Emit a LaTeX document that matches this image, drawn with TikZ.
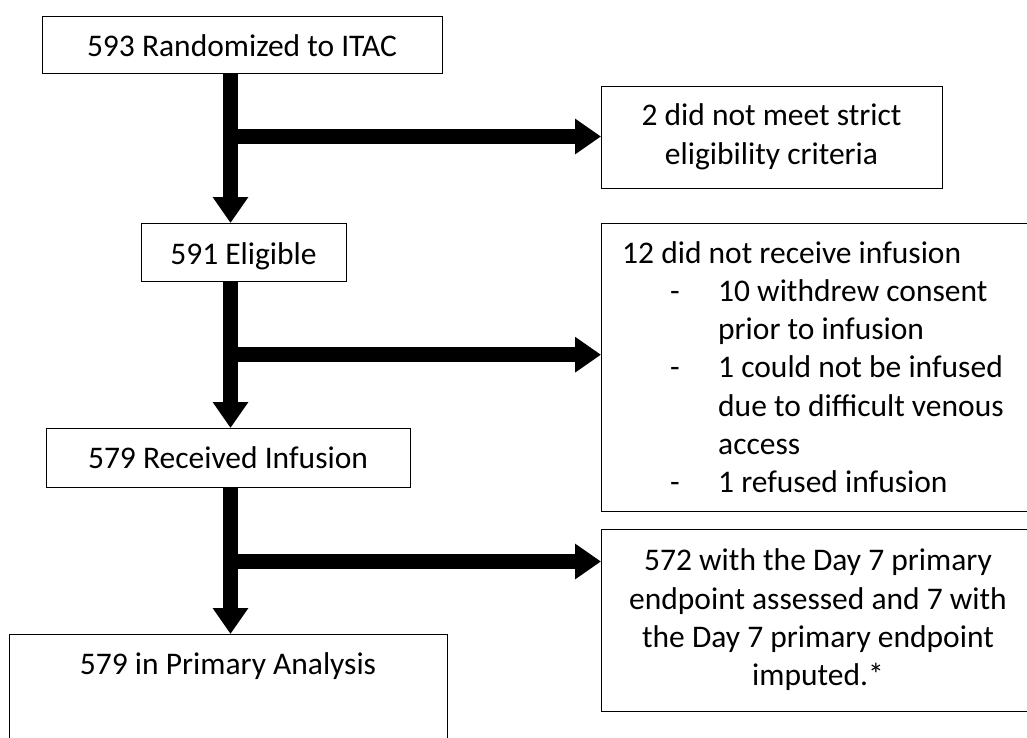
\documentclass[tikz,border=0pt]{standalone}
\usepackage{fontspec}
\setmainfont{Carlito}
\usetikzlibrary{arrows.meta}
\begin{document}
\begin{tikzpicture}[x=1pt,y=-1pt,
  box/.style={draw=black, line width=1.2pt, inner sep=0pt, anchor=north west},
  txt/.style={inner sep=0pt, font=\fontsize{31.5pt}{38.3pt}\selectfont},
  flow/.style={line width=15pt, line cap=butt, -{Triangle[width=34pt,length=26pt]}}]
\useasboundingbox (0,0) rectangle (1027,738);
\clip (0,0) rectangle (1027,738);
% boxes
\node[box, minimum width=400pt, minimum height=57pt] (b1) at (42,16) {};
\node[box, minimum width=205pt, minimum height=58pt] (b2) at (141,223) {};
\node[box, minimum width=364pt, minimum height=59pt] (b3) at (46,428) {};
\node[box, minimum width=438pt, minimum height=140pt] (b5) at (9,634) {};
\node[box, minimum width=341pt, minimum height=102pt] (bA) at (601,86) {};
\node[box, minimum width=434pt, minimum height=288pt] (bB) at (601,223) {};
\node[box, minimum width=434pt, minimum height=182pt] (bC) at (601,529) {};
% texts
\node[txt, anchor=base] (t1) at (242,57) {593 Randomized to ITAC};
\node[txt, anchor=base] (t2) at (243.5,264.5) {591 Eligible};
\node[txt, anchor=base] (t3) at (228,468) {579 Received Infusion};
\node[txt, anchor=base] (t5) at (228,674) {579 in Primary Analysis};
\node[txt, anchor=base] (tA) at (771.5,126) {\begin{tabular}[t]{@{}c@{}}2 did not meet strict\\ eligibility criteria\end{tabular}};
\node[txt, anchor=base west] (tB) at (622,263) {\begin{tabular}[t]{@{}l@{}}
12 did not receive infusion\\
\makebox[96pt][l]{\hspace{48pt}-}10 withdrew consent\\
\hspace{96pt}prior to infusion\\
\makebox[96pt][l]{\hspace{48pt}-}1 could not be infused\\
\hspace{96pt}due to difficult venous\\
\hspace{96pt}access\\
\makebox[96pt][l]{\hspace{48pt}-}1 refused infusion
\end{tabular}};
\node[txt, anchor=base] (tC) at (818,570.7) {\begin{tabular}[t]{@{}c@{}}572 with the Day 7 primary\\ endpoint assessed and 7 with\\ the Day 7 primary endpoint\\ imputed.*\end{tabular}};
% connectors
\coordinate (spine) at (230.5,0);
\coordinate (j1) at (230.5,136.5);
\coordinate (j2) at (230.5,354.7);
\coordinate (j3) at (230.5,561.5);
\draw[flow] (b1.south -| spine) -- (b2.north -| spine);
\draw[flow] (b2.south -| spine) -- (b3.north -| spine);
\draw[flow] (b3.south -| spine) -- (b5.north -| spine);
\draw[flow] (j1) -- (j1 -| bA.west);
\draw[flow] (j2) -- (j2 -| bB.west);
\draw[flow] (j3) -- (j3 -| bC.west);
\end{tikzpicture}
\end{document}
